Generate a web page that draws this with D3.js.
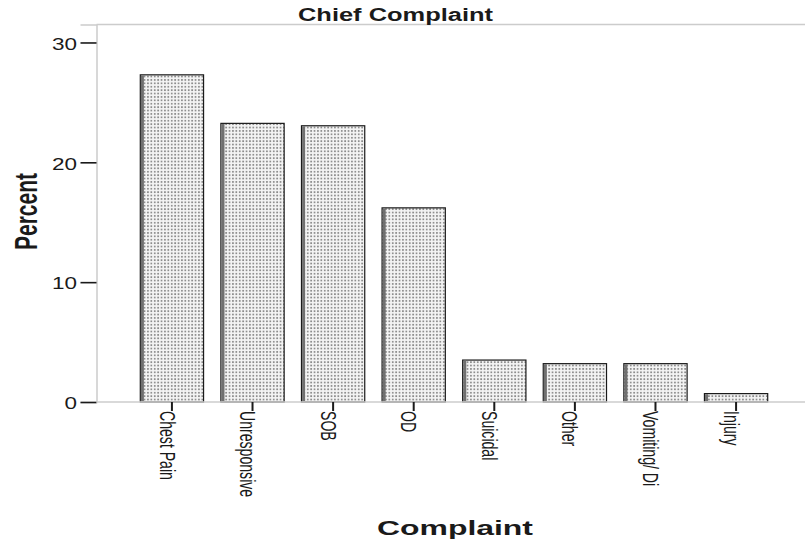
<!DOCTYPE html>
<html lang="en">
<head>
  <meta charset="UTF-8">
  <style>
    body { margin: 0; padding: 0; background: #ffffff; }
    #chart { display: block; }
    text { font-family: "Liberation Sans", Arial, sans-serif; fill: #1a1a1a; }
  </style>
</head>
<body>
  <svg id="chart"></svg>

  <script src="https://d3js.org/d3.v7.min.js"></script>
  <script>
    // data
    let complaints = ["Chest Pain", "Unresponsive", "SOB", "OD", "Suicidal", "Other", "Vomiting/ Di", "Injury"];
    let percents = [27.3, 23.25, 23.05, 16.2, 3.5, 3.2, 3.2, 0.7];
    let yTicks = [0, 10, 20, 30];

    let width = 805, height = 544;
    let svg = d3.select("#chart").attr("width", width).attr("height", height);

    // dotted fill of the bars
    let defs = svg.append("defs");
    let pat = defs.append("pattern")
      .attr("id", "dots")
      .attr("patternUnits", "userSpaceOnUse")
      .attr("width", 3.4).attr("height", 3.4);
    pat.append("rect").attr("width", 3.4).attr("height", 3.4).attr("fill", "#f4f4f4");
    pat.append("rect").attr("x", 0.9).attr("y", 0.9).attr("width", 1.7).attr("height", 1.7).attr("fill", "#8a8a8a");

    let x = d3.scaleBand()
      .domain(complaints)
      .range([100, 808])
      .paddingInner(0.215)
      .paddingOuter(0.5);

    let y = d3.scaleLinear()
      .domain([0, 31.5])
      .range([402, 24.5]);

    // frame
    svg.append("line")
      .attr("x1", 96.5).attr("x2", width).attr("y1", 24.5).attr("y2", 24.5)
      .attr("stroke", "#cccccc").attr("stroke-width", 1.5);

    // bars
    let bars = svg.append("g").selectAll("g")
      .data(complaints)
      .enter()
      .append("g");

    bars.append("rect")
      .attr("x", (d, i) => x(d))
      .attr("y", (d, i) => y(percents[i]))
      .attr("width", x.bandwidth())
      .attr("height", (d, i) => y(0) - y(percents[i]))
      .attr("fill", "url(#dots)")
      .attr("stroke", "#1a1a1a")
      .attr("stroke-width", 1.2);

    // darker left edge of each bar
    bars.append("rect")
      .attr("x", (d, i) => x(d) + 0.6)
      .attr("y", (d, i) => y(percents[i]) + 0.6)
      .attr("width", 3)
      .attr("height", (d, i) => y(0) - y(percents[i]) - 0.6)
      .attr("fill", "#707070");

    // y axis
    let yAxis = svg.append("g")
      .attr("transform", "translate(96.5,0)")
      .call(d3.axisLeft(y).tickValues(yTicks).tickSize(16).tickFormat(""));
    yAxis.select(".domain").attr("stroke", "#cccccc").attr("stroke-width", 1.5);
    yAxis.selectAll(".tick line").attr("stroke", "#1a1a1a").attr("stroke-width", 1.6);

    svg.append("g").selectAll("text")
      .data(yTicks)
      .enter()
      .append("text")
      .attr("transform", d => "translate(77," + (y(d) + 7.2) + ") scale(1.3,1)")
      .attr("text-anchor", "end")
      .style("font-size", "17.3px")
      .text(d => d);

    // x axis
    let xAxis = svg.append("g")
      .attr("transform", "translate(0,402)")
      .call(d3.axisBottom(x).tickSize(9).tickFormat(""));
    xAxis.select(".domain").attr("d", "M96.5,0H" + width).attr("stroke", "#cccccc").attr("stroke-width", 1.5);
    xAxis.selectAll(".tick line").attr("stroke", "#1a1a1a").attr("stroke-width", 2);

    svg.append("g").selectAll("text")
      .data(complaints)
      .enter()
      .append("text")
      .attr("transform", d => "translate(" + (x(d) + x.bandwidth() / 2) + ",411) scale(1.55,1) rotate(90)")
      .attr("y", 8)
      .style("font-size", "14.1px")
      .text(d => d);

    // titles
    svg.append("text")
      .attr("x", 298).attr("y", 20.5)
      .attr("textLength", 195).attr("lengthAdjust", "spacingAndGlyphs")
      .style("font-size", "17.6px").style("font-weight", "bold")
      .text("Chief Complaint");

    svg.append("text")
      .attr("x", 377).attr("y", 535)
      .attr("textLength", 156).attr("lengthAdjust", "spacingAndGlyphs")
      .style("font-size", "20px").style("font-weight", "bold")
      .text("Complaint");

    svg.append("text")
      .attr("transform", "translate(37,211.5) scale(1.47,1) rotate(-90)")
      .attr("text-anchor", "middle")
      .attr("textLength", 77).attr("lengthAdjust", "spacingAndGlyphs")
      .style("font-size", "21px").style("font-weight", "bold")
      .text("Percent");
  </script>
</body>
</html>
